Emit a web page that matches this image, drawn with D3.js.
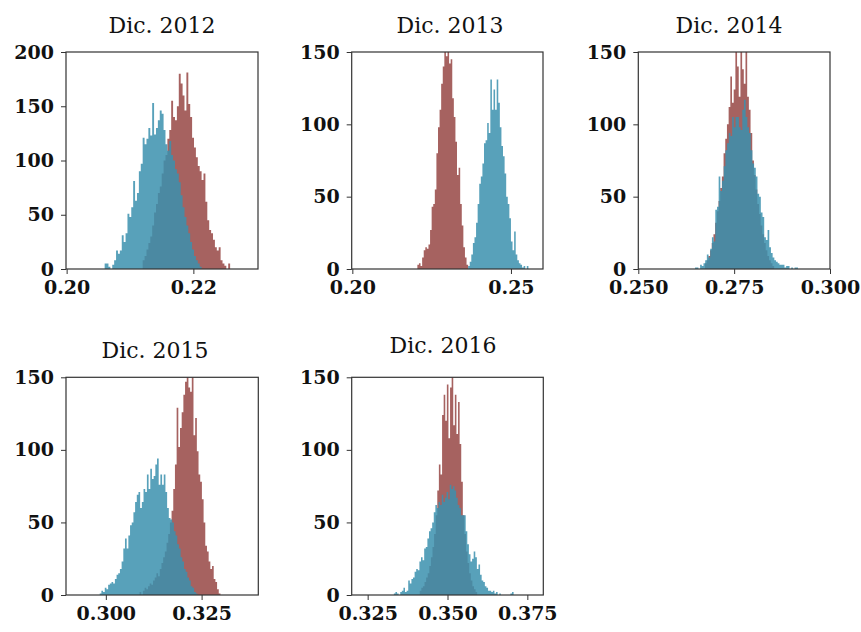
<!DOCTYPE html>
<html>
<head>
<meta charset="utf-8">
<script src="https://cdn.jsdelivr.net/npm/d3@7"></script>
<style>
  body { margin: 0; background: #fff; }
  .title { font-family: "DejaVu Serif", serif; font-size: 22px; fill: #111; }
  .axis text { font-family: "DejaVu Serif", serif; font-weight: bold; font-size: 19px; fill: #111; }
  .axis path { display: none; }
  .axis line { stroke: #333; }
</style>
</head>
<body>
<div id="chart"></div>
<script>
// panel titles and axes
const titles = ["Dic. 2012", "Dic. 2013", "Dic. 2014", "Dic. 2015", "Dic. 2016"];
const xDomains = [[0.1999, 0.2302], [0.1998, 0.2601], [0.25, 0.30], [0.2896, 0.3398], [0.32, 0.38]];
const xTicks = [[0.20, 0.22], [0.20, 0.25], [0.250, 0.275, 0.300], [0.300, 0.325], [0.325, 0.350, 0.375]];
const xFormats = [".2f", ".2f", ".3f", ".3f", ".3f"];
const yMax = [200, 150, 150, 150, 150];
const yTicks = [[0, 50, 100, 150, 200], [0, 50, 100, 150], [0, 50, 100, 150], [0, 50, 100, 150], [0, 50, 100, 150]];

// histogram bins: first bin edge and bin width per panel
const binWidth = [0.0003, 0.0005, 0.00044, 0.00044, 0.0005];
const redStart = [0.2120, 0.2205, 0.2674, 0.3088, 0.3413];
const blueStart = [0.2060, 0.2365, 0.2648, 0.2984, 0.3332];

// counts (red series)
const red2012 = [8, 12, 18, 24, 30, 40, 52, 60, 70, 76, 88, 100, 105, 120, 128, 155, 140, 137, 150, 180,
  171, 160, 146, 181, 152, 140, 121, 112, 103, 95, 90, 82, 88, 62, 45, 36, 33, 27, 20, 17, 20, 8, 5, 3, 0, 5];
const red2013 = [3, 4, 2, 8, 13, 15, 14, 17, 27, 43, 45, 55, 80, 98, 110, 128, 140, 150, 147, 150,
  142, 145, 118, 105, 88, 65, 70, 45, 30, 15, 8, 3];
const red2014 = [4, 6, 9, 13, 18, 24, 32, 40, 47, 56, 64, 80, 90, 100, 112, 133, 115, 124, 150, 140,
  119, 150, 138, 128, 150, 119, 110, 94, 75, 65, 55, 45, 38, 30, 24, 18, 13, 9, 6, 4, 2];
const red2015 = [2, 0, 3, 5, 4, 6, 8, 7, 10, 12, 15, 13, 18, 22, 26, 30, 36, 42, 50, 58,
  73, 90, 129, 102, 115, 126, 138, 147, 150, 143, 140, 150, 110, 122, 99, 83, 78, 66, 50, 34,
  30, 23, 18, 20, 11, 9, 4, 1];
const red2016 = [3, 5, 6, 9, 12, 15, 20, 26, 33, 42, 55, 72, 90, 83, 124, 138, 120, 145, 108, 143,
  150, 117, 138, 111, 133, 104, 78, 55, 42, 30, 22, 15, 10, 6, 4, 2];

// counts (blue series)
const blue2012 = [5, 5, 2, 0, 4, 8, 17, 14, 17, 31, 25, 33, 51, 48, 57, 81, 63, 70, 90, 97,
  121, 115, 120, 130, 123, 153, 124, 130, 137, 146, 143, 128, 115, 109, 118, 105, 100, 92, 88, 80,
  68, 57, 48, 40, 33, 25, 18, 12, 8, 5, 2];
const blue2013 = [2, 5, 10, 18, 22, 32, 45, 59, 64, 73, 87, 89, 101, 94, 131, 110, 124, 110, 131, 115,
  98, 85, 78, 66, 50, 45, 35, 19, 13, 26, 10, 6, 4, 3, 1, 2, 0, 2];
const blue2014 = [1, 1, 0, 3, 2, 4, 6, 10, 8, 14, 22, 19, 41, 43, 64, 54, 61, 71, 82, 87,
  94, 92, 105, 98, 105, 105, 98, 96, 110, 117, 105, 98, 94, 82, 73, 70, 64, 52, 50, 39,
  36, 22, 20, 27, 15, 11, 8, 6, 5, 4, 3, 3, 3, 1, 2, 2, 0, 1, 0, 1, 1];
const blue2015 = [1, 3, 2, 5, 4, 7, 8, 9, 8, 11, 14, 15, 18, 23, 32, 39, 32, 41, 48, 50,
  57, 64, 69, 71, 60, 64, 73, 71, 83, 73, 87, 80, 82, 90, 94, 76, 83, 76, 83, 71,
  60, 53, 52, 50, 44, 41, 35, 32, 26, 23, 18, 16, 12, 10, 6, 5, 2, 1];
const blue2016 = [1, 2, 1, 0, 2, 3, 5, 2, 3, 10, 8, 11, 12, 16, 18, 17, 23, 26, 24, 32,
  33, 39, 44, 46, 50, 57, 62, 60, 64, 62, 69, 64, 67, 71, 66, 76, 73, 75, 72, 67,
  62, 60, 55, 55, 55, 44, 35, 28, 23, 25, 30, 26, 18, 21, 14, 10, 9, 6, 5, 3,
  3, 2, 3, 1, 2, 0, 1, 0, 0, 0, 0, 0, 0, 1, 2];

const redSeries = [red2012, red2013, red2014, red2015, red2016];
const blueSeries = [blue2012, blue2013, blue2014, blue2015, blue2016];

// plot boxes in the 861x632 page
const boxes = [
  { left: 66, right: 258, top: 52, bottom: 269, tx: 162, ty: 33 },
  { left: 351.7, right: 543, top: 52, bottom: 269, tx: 450, ty: 33 },
  { left: 638.3, right: 830, top: 52, bottom: 269, tx: 729, ty: 33 },
  { left: 66, right: 258.3, top: 377.3, bottom: 595, tx: 155, ty: 358 },
  { left: 351.7, right: 543.3, top: 377.3, bottom: 595, tx: 443, ty: 353 }
];

const redColor = "#974744", blueColor = "#3b90ae";

const svg = d3.select("#chart").append("svg")
  .attr("width", 861)
  .attr("height", 632);

boxes.forEach(function (b, p) {
  const w = b.right - b.left, h = b.bottom - b.top;
  const g = svg.append("g").attr("transform", "translate(" + b.left + "," + b.top + ")");

  const x = d3.scaleLinear().domain(xDomains[p]).range([0, w]);
  const y = d3.scaleLinear().domain([0, yMax[p]]).range([h, 0]);

  g.append("clipPath").attr("id", "clip" + p)
    .append("rect").attr("width", w).attr("height", h);

  const area = d3.area()
    .curve(d3.curveStepAfter)
    .x(function (d) { return x(d.x); })
    .y0(h)
    .y1(function (d) { return y(d.c); });

  // turn a count array into step points
  function steps(counts, start) {
    const pts = counts.map(function (c, i) { return { x: start + i * binWidth[p], c: c }; });
    pts.push({ x: start + counts.length * binWidth[p], c: 0 });
    return pts;
  }

  const plot = g.append("g").attr("clip-path", "url(#clip" + p + ")");

  plot.append("path")
    .datum(steps(redSeries[p], redStart[p]))
    .attr("d", area)
    .attr("fill", redColor)
    .attr("fill-opacity", 0.85);

  plot.append("path")
    .datum(steps(blueSeries[p], blueStart[p]))
    .attr("d", area)
    .attr("fill", blueColor)
    .attr("fill-opacity", 0.85);

  // frame
  g.append("rect")
    .attr("width", w).attr("height", h)
    .attr("fill", "none")
    .attr("stroke", "#333")
    .attr("stroke-width", 1.2);

  g.append("g").attr("class", "axis")
    .call(d3.axisLeft(y).tickValues(yTicks[p]).tickSize(5).tickPadding(7).tickFormat(d3.format("d")));

  g.append("g").attr("class", "axis")
    .attr("transform", "translate(0," + h + ")")
    .call(d3.axisBottom(x).tickValues(xTicks[p]).tickSize(5).tickPadding(7).tickFormat(d3.format(xFormats[p])));

  svg.append("text")
    .attr("class", "title")
    .attr("x", b.tx)
    .attr("y", b.ty)
    .attr("text-anchor", "middle")
    .text(titles[p]);
});
</script>
</body>
</html>
